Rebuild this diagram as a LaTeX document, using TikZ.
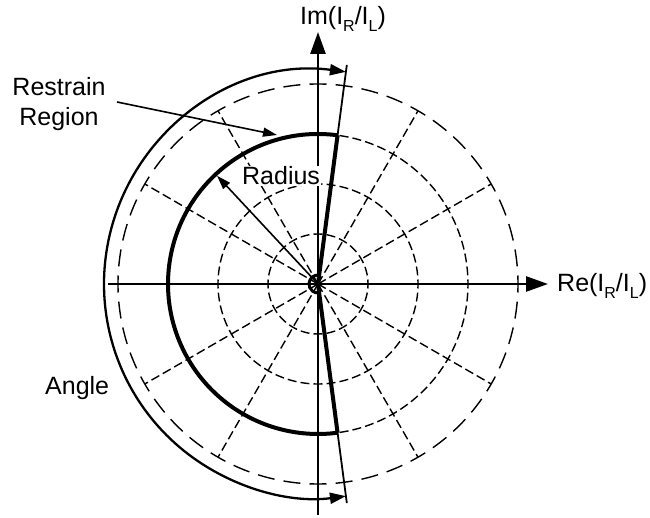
\documentclass[tikz,border=0pt]{standalone}
\usepackage{fontspec}
\setmainfont{Liberation Sans}
\usetikzlibrary{arrows.meta}
\newcommand\lsub[1]{\raisebox{-7pt}{\fontsize{16}{16}\selectfont #1}}
\begin{document}
\begin{tikzpicture}[x=1pt,y=1pt,
  lbl/.style={font=\fontsize{25}{30}\selectfont, inner sep=0pt},
  axisline/.style={line width=2.5pt, -{Triangle[length=22pt,width=15pt]}},
  gridin/.style={line width=1.4pt, dash pattern=on 9pt off 4.09pt, dash phase=4.5pt},
  gridout/.style={line width=1.4pt, dash pattern=on 17pt off 9.18pt, dash phase=8.5pt},
  radial/.style={line width=1.4pt, dash pattern=on 9pt off 4.09pt},
  thinray/.style={line width=1.8pt},
  boldray/.style={line width=4pt},
  anglearc/.style={line width=2.3pt, {Triangle[length=16pt,width=11pt]}-{Triangle[length=16pt,width=11pt]}},
  pointer/.style={line width=1.6pt, -{Triangle[length=14pt,width=9pt]}}
]
\useasboundingbox (-318,-234) rectangle (332,284);
\coordinate (O) at (0,0);
% polar grid
\foreach \a in {0,30,...,330}{
  \foreach \r in {50,100,150}{
    \draw[gridin] (\a:\r) arc[start angle=\a, delta angle=30, radius=\r];
  }
  \draw[gridout] (\a:200) arc[start angle=\a, delta angle=30, radius=200];
}
\foreach \a in {30,60,120,150,210,240,300,330}{
  \coordinate (R\a) at (\a:200);
  \draw[radial] (O) -- (R\a);
}
% axes
\coordinate (xl) at (-210,0);
\coordinate (xr) at (230,0);
\coordinate (yb) at (0,-231);
\coordinate (yt) at (0,252);
\draw[axisline] (xl) -- (xr);
\draw[axisline] (yb) -- (yt);
% tilted lines
\coordinate (T1) at (82.5:221);
\coordinate (T2) at (-82.5:221);
\coordinate (B1) at (82.5:150);
\coordinate (B2) at (-82.5:150);
\draw[thinray] (O) -- (T1);
\draw[thinray] (O) -- (T2);
\draw[boldray] (O) -- (B1);
\draw[boldray] (O) -- (B2);
% restrain region boundary
\draw[line width=4pt] (B1) arc[start angle=82.5, end angle=277.5, radius=150];
% small centre arc
\draw[line width=3pt] (82.5:9) arc[start angle=82.5, end angle=277.5, radius=9];
% angle arc
\coordinate (A1) at (82.5:214);
\draw[anglearc] (A1) arc[start angle=82.5, end angle=277.5, radius=214];
% labels
\node[lbl, anchor=base west] (im) at (-18,259) {Im(I\lsub{R}/I\lsub{L})};
\node[lbl, anchor=base west] (re) at (239,-8) {Re(I\lsub{R}/I\lsub{L})};
\node[lbl, align=center, anchor=north] (rr) at (-259,207) {Restrain\\Region};
\node[lbl, anchor=base west, fill=white, inner sep=1pt] (rad) at (-77,99) {Radius};
\node[lbl, anchor=base west] (ang) at (-273,-111) {Angle};
% pointers
\coordinate (rrs) at (-201,182);
\coordinate (rrt) at (-41,149);
\draw[pointer] (rrs) -- (rrt);
\coordinate (radt) at (133:148);
\draw[pointer] (O) -- (radt);
\end{tikzpicture}
\end{document}
